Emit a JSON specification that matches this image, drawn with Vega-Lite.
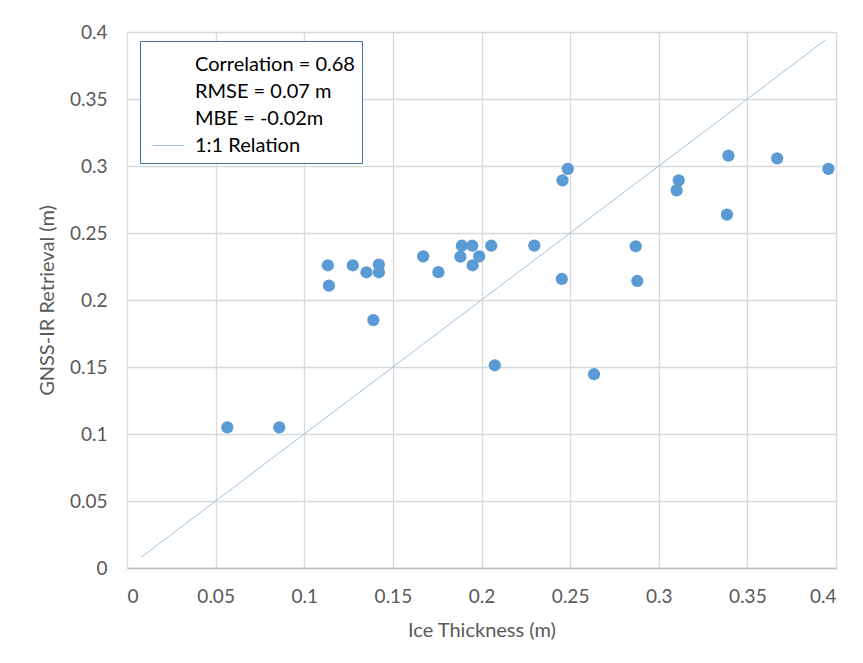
{
  "$schema": "https://vega.github.io/schema/vega-lite/v6.json",
  "width": 709,
  "height": 536,
  "autosize": {"type": "none"},
  "padding": {"left": 127, "top": 32, "right": 27, "bottom": 95},
  "background": "white",
  "config": {
    "view": {"stroke": null},
    "font": "Lato",
    "axis": {
      "labelFont": "Lato",
      "titleFont": "Lato",
      "labelColor": "#595959",
      "titleColor": "#595959",
      "labelFontSize": 19,
      "titleFontSize": 20,
      "titleFontWeight": "normal",
      "gridColor": "#D9D9D9",
      "gridWidth": 1.3,
      "ticks": false,
      "format": ".2~f"
    }
  },
  "encoding": {
    "x": {
      "field": "ice",
      "type": "quantitative",
      "scale": {"domain": [0, 0.4], "nice": false},
      "axis": {
        "title": "Ice Thickness (m)",
        "values": [0, 0.05, 0.1, 0.15, 0.2, 0.25, 0.3, 0.35, 0.4],
        "labelPadding": 19,
        "titlePadding": 14,
        "domainColor": "#BFBFBF",
        "domainWidth": 1.5
      }
    },
    "y": {
      "field": "gnss",
      "type": "quantitative",
      "scale": {"domain": [0, 0.4], "nice": false},
      "axis": {
        "title": "GNSS-IR Retrieval (m)",
        "values": [0, 0.05, 0.1, 0.15, 0.2, 0.25, 0.3, 0.35, 0.4],
        "labelPadding": 20,
        "titlePadding": 12,
        "domain": false
      }
    }
  },
  "layer": [
    {
      "data": {
        "values": [
          {"ice": 0.008, "gnss": 0.008, "series": "1:1 Relation"},
          {"ice": 0.394, "gnss": 0.394, "series": "1:1 Relation"}
        ]
      },
      "mark": {"type": "line", "strokeWidth": 1},
      "encoding": {
        "color": {
          "field": "series",
          "type": "nominal",
          "scale": {
            "domain": ["Correlation = 0.68", "RMSE = 0.07 m", "MBE = -0.02m", "1:1 Relation"],
            "range": ["transparent", "transparent", "transparent", "#9DC3E6"]
          },
          "legend": {
            "title": null,
            "orient": "none",
            "legendX": 13,
            "legendY": 9,
            "symbolType": "stroke",
            "symbolSize": 1000,
            "symbolStrokeWidth": 1,
            "symbolOffset": 5,
            "labelFont": "Lato",
            "labelFontSize": 20,
            "labelColor": "#000000",
            "labelOffset": 10,
            "rowPadding": -7,
            "padding": 7,
            "fillColor": "white",
            "strokeColor": "#41719C"
          }
        }
      }
    },
    {
      "data": {
        "values": [
          {"ice": 0.0566, "gnss": 0.105},
          {"ice": 0.0859, "gnss": 0.105},
          {"ice": 0.1133, "gnss": 0.2259},
          {"ice": 0.1139, "gnss": 0.2107},
          {"ice": 0.1274, "gnss": 0.2259},
          {"ice": 0.1351, "gnss": 0.2207},
          {"ice": 0.1421, "gnss": 0.2264},
          {"ice": 0.1421, "gnss": 0.2207},
          {"ice": 0.139, "gnss": 0.185},
          {"ice": 0.1671, "gnss": 0.2326},
          {"ice": 0.1757, "gnss": 0.2208},
          {"ice": 0.1889, "gnss": 0.2405},
          {"ice": 0.1881, "gnss": 0.2323},
          {"ice": 0.1948, "gnss": 0.2405},
          {"ice": 0.1987, "gnss": 0.2326},
          {"ice": 0.195, "gnss": 0.2259},
          {"ice": 0.2055, "gnss": 0.2405},
          {"ice": 0.2075, "gnss": 0.1513},
          {"ice": 0.2298, "gnss": 0.2406},
          {"ice": 0.2457, "gnss": 0.2893},
          {"ice": 0.2487, "gnss": 0.2978},
          {"ice": 0.2453, "gnss": 0.2157},
          {"ice": 0.2635, "gnss": 0.1446},
          {"ice": 0.287, "gnss": 0.2401},
          {"ice": 0.2879, "gnss": 0.2142},
          {"ice": 0.3101, "gnss": 0.2818},
          {"ice": 0.3113, "gnss": 0.2893},
          {"ice": 0.3393, "gnss": 0.3078},
          {"ice": 0.3385, "gnss": 0.2637},
          {"ice": 0.3668, "gnss": 0.3057},
          {"ice": 0.3957, "gnss": 0.2978}
        ]
      },
      "mark": {"type": "circle", "size": 150, "color": "#5B9BD5", "opacity": 1}
    }
  ]
}
